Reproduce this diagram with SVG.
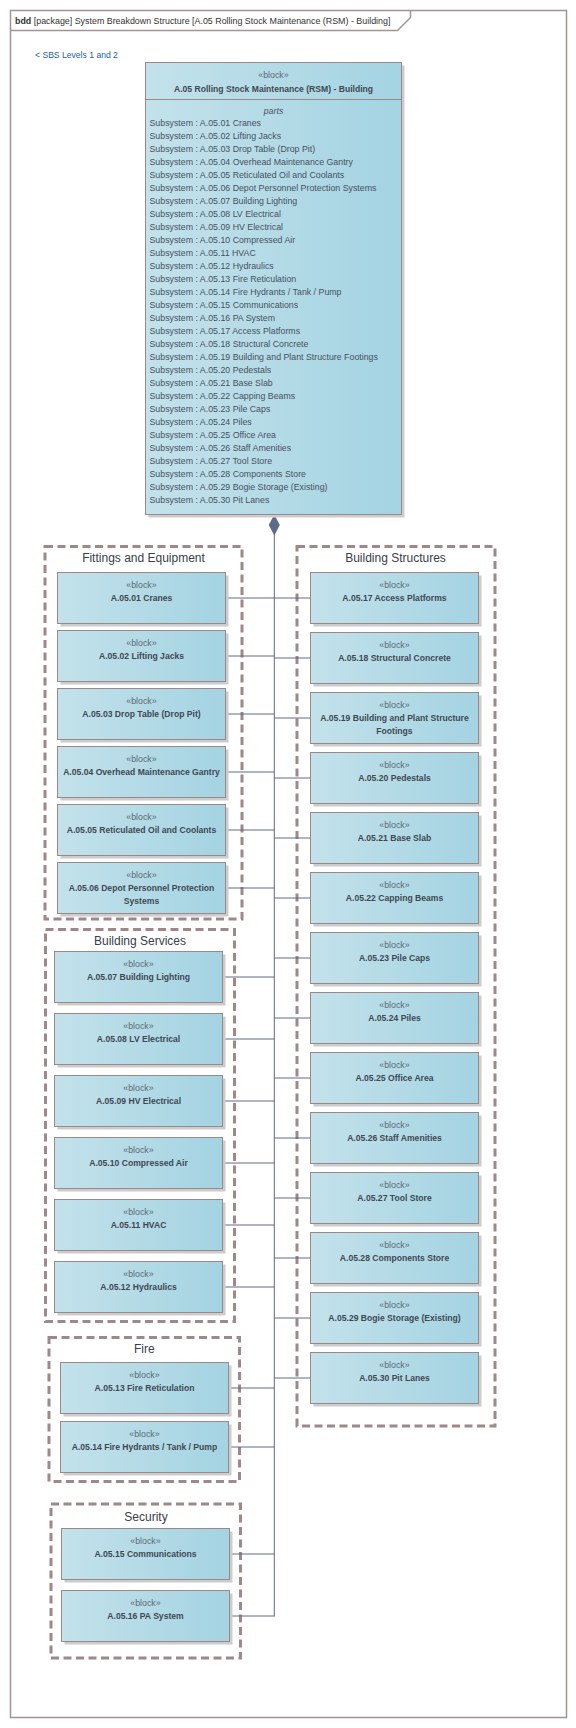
<svg xmlns="http://www.w3.org/2000/svg" width="576" height="1728" viewBox="0 0 576 1728">
<defs>
<linearGradient id="bg" x1="0" y1="0" x2="1" y2="0">
<stop offset="0" stop-color="#c3e2eb"/>
<stop offset="1" stop-color="#a4d3e2"/>
</linearGradient>
<marker id="diamond" viewBox="0 0 21 11" refX="0" refY="5.5" markerWidth="21" markerHeight="11" markerUnits="userSpaceOnUse" orient="auto">
<path d="M0,5.5 L10.5,0 L21,5.5 L10.5,11 Z" fill="#5d6a88"/>
</marker>
</defs>
<style>
text{font-family:"Liberation Sans",Arial,sans-serif;}
.frame{fill:none;stroke:#a39393;stroke-width:1.5;}
.ftitle{font-size:8.9px;fill:#333;}
.link{font-size:8.6px;fill:#1f5f9e;}
.shadow{fill:#cccccc;}
.box{fill:url(#bg);stroke:#9e8787;stroke-width:1;}
.st{font-size:8.8px;fill:#5d6873;text-anchor:middle;}
.nm{font-size:8.6px;fill:#3f4852;font-weight:bold;text-anchor:middle;}
.pt{font-size:8.8px;fill:#47515c;}
.pth{font-size:8.8px;fill:#47515c;font-style:italic;text-anchor:middle;}
.grp{fill:none;stroke:#9e8888;stroke-width:3;stroke-dasharray:8 4.5;}
.gt{font-size:12px;fill:#36404b;text-anchor:middle;}
.con{fill:none;stroke:#5d6a88;stroke-width:1;}
</style>
<rect width="576" height="1728" fill="#ffffff"/>
<g id="frame">
<rect class="frame" x="10.5" y="10.5" width="556" height="1707"/>
<path class="frame" d="M10.5,30.5 H397.5 L410.5,17.5 V10.5"/>
<text class="ftitle" x="15" y="23.5"><tspan font-weight="bold">bdd</tspan> [package] System Breakdown Structure [A.05 Rolling Stock Maintenance (RSM) - Building]</text>
</g>
<g id="link"><text class="link" x="35" y="58">&lt; SBS Levels 1 and 2</text></g>

<g id="grp-fittings"><rect class="grp" x="45" y="546.5" width="197" height="372.5"/><text class="gt" x="143.5" y="562">Fittings and Equipment</text></g>
<g id="grp-services"><rect class="grp" x="45.5" y="929.5" width="189" height="392"/><text class="gt" x="140" y="945">Building Services</text></g>
<g id="grp-fire"><rect class="grp" x="49" y="1337.5" width="190.5" height="144"/><text class="gt" x="144.3" y="1353">Fire</text></g>
<g id="grp-security"><rect class="grp" x="51" y="1504" width="189.5" height="154"/><text class="gt" x="146" y="1521">Security</text></g>
<g id="grp-structures"><rect class="grp" x="297" y="546.5" width="198" height="879.5"/><text class="gt" x="395.5" y="562">Building Structures</text></g>

<g id="connectors">
<path class="con" d="M274.3,514.5 V1616.5" marker-start="url(#diamond)"/>
<path class="con" d="M225.5,598 H310.5"/>
<path class="con" d="M225.5,656 H274.3 M225.5,714 H274.3 M225.5,772 H274.3 M225.5,830 H274.3 M225.5,888 H274.3"/>
<path class="con" d="M222.5,977 H274.3 M222.5,1039 H274.3 M222.5,1101 H274.3 M222.5,1163 H274.3 M222.5,1225 H274.3 M222.5,1287 H274.3"/>
<path class="con" d="M228.5,1388 H274.3 M228.5,1447 H274.3"/>
<path class="con" d="M229.5,1554 H274.3 M229.5,1616 H274.3"/>
<path class="con" d="M274.3,658 H310.5 M274.3,718 H310.5 M274.3,778 H310.5 M274.3,838 H310.5 M274.3,898 H310.5 M274.3,958 H310.5 M274.3,1018 H310.5 M274.3,1078 H310.5 M274.3,1138 H310.5 M274.3,1198 H310.5 M274.3,1258 H310.5 M274.3,1318 H310.5 M274.3,1378 H310.5"/>
</g>

<g id="A05" transform="translate(145.5,62.5)">
<rect class="shadow" x="3" y="3" width="256" height="452"/>
<rect class="box" x="0" y="0" width="256" height="452"/>
<line x1="0" y1="37" x2="256" y2="37" stroke="#9e8787" stroke-width="1"/>
<text class="st" x="128" y="15.8">«block»</text>
<text class="nm" x="128" y="29">A.05 Rolling Stock Maintenance (RSM) - Building</text>
<text class="pth" x="128" y="51.2">parts</text>
<text class="pt" x="4" y="63.5">Subsystem : A.05.01 Cranes</text>
<text class="pt" x="4" y="76.5">Subsystem : A.05.02 Lifting Jacks</text>
<text class="pt" x="4" y="89.5">Subsystem : A.05.03 Drop Table (Drop Pit)</text>
<text class="pt" x="4" y="102.5">Subsystem : A.05.04 Overhead Maintenance Gantry</text>
<text class="pt" x="4" y="115.5">Subsystem : A.05.05 Reticulated Oil and Coolants</text>
<text class="pt" x="4" y="128.5">Subsystem : A.05.06 Depot Personnel Protection Systems</text>
<text class="pt" x="4" y="141.5">Subsystem : A.05.07 Building Lighting</text>
<text class="pt" x="4" y="154.5">Subsystem : A.05.08 LV Electrical</text>
<text class="pt" x="4" y="167.5">Subsystem : A.05.09 HV Electrical</text>
<text class="pt" x="4" y="180.5">Subsystem : A.05.10 Compressed Air</text>
<text class="pt" x="4" y="193.5">Subsystem : A.05.11 HVAC</text>
<text class="pt" x="4" y="206.5">Subsystem : A.05.12 Hydraulics</text>
<text class="pt" x="4" y="219.5">Subsystem : A.05.13 Fire Reticulation</text>
<text class="pt" x="4" y="232.5">Subsystem : A.05.14 Fire Hydrants / Tank / Pump</text>
<text class="pt" x="4" y="245.5">Subsystem : A.05.15 Communications</text>
<text class="pt" x="4" y="258.5">Subsystem : A.05.16 PA System</text>
<text class="pt" x="4" y="271.5">Subsystem : A.05.17 Access Platforms</text>
<text class="pt" x="4" y="284.5">Subsystem : A.05.18 Structural Concrete</text>
<text class="pt" x="4" y="297.5">Subsystem : A.05.19 Building and Plant Structure Footings</text>
<text class="pt" x="4" y="310.5">Subsystem : A.05.20 Pedestals</text>
<text class="pt" x="4" y="323.5">Subsystem : A.05.21 Base Slab</text>
<text class="pt" x="4" y="336.5">Subsystem : A.05.22 Capping Beams</text>
<text class="pt" x="4" y="349.5">Subsystem : A.05.23 Pile Caps</text>
<text class="pt" x="4" y="362.5">Subsystem : A.05.24 Piles</text>
<text class="pt" x="4" y="375.5">Subsystem : A.05.25 Office Area</text>
<text class="pt" x="4" y="388.5">Subsystem : A.05.26 Staff Amenities</text>
<text class="pt" x="4" y="401.5">Subsystem : A.05.27 Tool Store</text>
<text class="pt" x="4" y="414.5">Subsystem : A.05.28 Components Store</text>
<text class="pt" x="4" y="427.5">Subsystem : A.05.29 Bogie Storage (Existing)</text>
<text class="pt" x="4" y="440.5">Subsystem : A.05.30 Pit Lanes</text>
</g>

<g id="A0501" transform="translate(57.5,572.5)"><rect class="shadow" x="3" y="3" width="168" height="51"/><rect class="box" width="168" height="51"/><text class="st" x="84" y="15.8">«block»</text><text class="nm" x="84" y="28.5">A.05.01 Cranes</text></g>
<g id="A0502" transform="translate(57.5,630.5)"><rect class="shadow" x="3" y="3" width="168" height="51"/><rect class="box" width="168" height="51"/><text class="st" x="84" y="15.8">«block»</text><text class="nm" x="84" y="28.5">A.05.02 Lifting Jacks</text></g>
<g id="A0503" transform="translate(57.5,688.5)"><rect class="shadow" x="3" y="3" width="168" height="51"/><rect class="box" width="168" height="51"/><text class="st" x="84" y="15.8">«block»</text><text class="nm" x="84" y="28.5">A.05.03 Drop Table (Drop Pit)</text></g>
<g id="A0504" transform="translate(57.5,746.5)"><rect class="shadow" x="3" y="3" width="168" height="51"/><rect class="box" width="168" height="51"/><text class="st" x="84" y="15.8">«block»</text><text class="nm" x="84" y="28.5">A.05.04 Overhead Maintenance Gantry</text></g>
<g id="A0505" transform="translate(57.5,804.5)"><rect class="shadow" x="3" y="3" width="168" height="51"/><rect class="box" width="168" height="51"/><text class="st" x="84" y="15.8">«block»</text><text class="nm" x="84" y="28.5">A.05.05 Reticulated Oil and Coolants</text></g>
<g id="A0506" transform="translate(57.5,862.5)"><rect class="shadow" x="3" y="3" width="168" height="51"/><rect class="box" width="168" height="51"/><text class="st" x="84" y="15.8">«block»</text><text class="nm" x="84" y="28.5">A.05.06 Depot Personnel Protection</text><text class="nm" x="84" y="41.8">Systems</text></g>

<g id="A0507" transform="translate(54.5,951.5)"><rect class="shadow" x="3" y="3" width="168" height="51"/><rect class="box" width="168" height="51"/><text class="st" x="84" y="15.8">«block»</text><text class="nm" x="84" y="28.5">A.05.07 Building Lighting</text></g>
<g id="A0508" transform="translate(54.5,1013.5)"><rect class="shadow" x="3" y="3" width="168" height="51"/><rect class="box" width="168" height="51"/><text class="st" x="84" y="15.8">«block»</text><text class="nm" x="84" y="28.5">A.05.08 LV Electrical</text></g>
<g id="A0509" transform="translate(54.5,1075.5)"><rect class="shadow" x="3" y="3" width="168" height="51"/><rect class="box" width="168" height="51"/><text class="st" x="84" y="15.8">«block»</text><text class="nm" x="84" y="28.5">A.05.09 HV Electrical</text></g>
<g id="A0510" transform="translate(54.5,1137.5)"><rect class="shadow" x="3" y="3" width="168" height="51"/><rect class="box" width="168" height="51"/><text class="st" x="84" y="15.8">«block»</text><text class="nm" x="84" y="28.5">A.05.10 Compressed Air</text></g>
<g id="A0511" transform="translate(54.5,1199.5)"><rect class="shadow" x="3" y="3" width="168" height="51"/><rect class="box" width="168" height="51"/><text class="st" x="84" y="15.8">«block»</text><text class="nm" x="84" y="28.5">A.05.11 HVAC</text></g>
<g id="A0512" transform="translate(54.5,1261.5)"><rect class="shadow" x="3" y="3" width="168" height="51"/><rect class="box" width="168" height="51"/><text class="st" x="84" y="15.8">«block»</text><text class="nm" x="84" y="28.5">A.05.12 Hydraulics</text></g>

<g id="A0513" transform="translate(60.5,1362.5)"><rect class="shadow" x="3" y="3" width="168" height="51"/><rect class="box" width="168" height="51"/><text class="st" x="84" y="15.8">«block»</text><text class="nm" x="84" y="28.5">A.05.13 Fire Reticulation</text></g>
<g id="A0514" transform="translate(60.5,1421.5)"><rect class="shadow" x="3" y="3" width="168" height="51"/><rect class="box" width="168" height="51"/><text class="st" x="84" y="15.8">«block»</text><text class="nm" x="84" y="28.5">A.05.14 Fire Hydrants / Tank / Pump</text></g>

<g id="A0515" transform="translate(61.5,1528.5)"><rect class="shadow" x="3" y="3" width="168" height="51"/><rect class="box" width="168" height="51"/><text class="st" x="84" y="15.8">«block»</text><text class="nm" x="84" y="28.5">A.05.15 Communications</text></g>
<g id="A0516" transform="translate(61.5,1590.5)"><rect class="shadow" x="3" y="3" width="168" height="51"/><rect class="box" width="168" height="51"/><text class="st" x="84" y="15.8">«block»</text><text class="nm" x="84" y="28.5">A.05.16 PA System</text></g>

<g id="A0517" transform="translate(310.5,572.5)"><rect class="shadow" x="3" y="3" width="168" height="51"/><rect class="box" width="168" height="51"/><text class="st" x="84" y="15.8">«block»</text><text class="nm" x="84" y="28.5">A.05.17 Access Platforms</text></g>
<g id="A0518" transform="translate(310.5,632.5)"><rect class="shadow" x="3" y="3" width="168" height="51"/><rect class="box" width="168" height="51"/><text class="st" x="84" y="15.8">«block»</text><text class="nm" x="84" y="28.5">A.05.18 Structural Concrete</text></g>
<g id="A0519" transform="translate(310.5,692.5)"><rect class="shadow" x="3" y="3" width="168" height="51"/><rect class="box" width="168" height="51"/><text class="st" x="84" y="15.8">«block»</text><text class="nm" x="84" y="28.5">A.05.19 Building and Plant Structure</text><text class="nm" x="84" y="41.8">Footings</text></g>
<g id="A0520" transform="translate(310.5,752.5)"><rect class="shadow" x="3" y="3" width="168" height="51"/><rect class="box" width="168" height="51"/><text class="st" x="84" y="15.8">«block»</text><text class="nm" x="84" y="28.5">A.05.20 Pedestals</text></g>
<g id="A0521" transform="translate(310.5,812.5)"><rect class="shadow" x="3" y="3" width="168" height="51"/><rect class="box" width="168" height="51"/><text class="st" x="84" y="15.8">«block»</text><text class="nm" x="84" y="28.5">A.05.21 Base Slab</text></g>
<g id="A0522" transform="translate(310.5,872.5)"><rect class="shadow" x="3" y="3" width="168" height="51"/><rect class="box" width="168" height="51"/><text class="st" x="84" y="15.8">«block»</text><text class="nm" x="84" y="28.5">A.05.22 Capping Beams</text></g>
<g id="A0523" transform="translate(310.5,932.5)"><rect class="shadow" x="3" y="3" width="168" height="51"/><rect class="box" width="168" height="51"/><text class="st" x="84" y="15.8">«block»</text><text class="nm" x="84" y="28.5">A.05.23 Pile Caps</text></g>
<g id="A0524" transform="translate(310.5,992.5)"><rect class="shadow" x="3" y="3" width="168" height="51"/><rect class="box" width="168" height="51"/><text class="st" x="84" y="15.8">«block»</text><text class="nm" x="84" y="28.5">A.05.24 Piles</text></g>
<g id="A0525" transform="translate(310.5,1052.5)"><rect class="shadow" x="3" y="3" width="168" height="51"/><rect class="box" width="168" height="51"/><text class="st" x="84" y="15.8">«block»</text><text class="nm" x="84" y="28.5">A.05.25 Office Area</text></g>
<g id="A0526" transform="translate(310.5,1112.5)"><rect class="shadow" x="3" y="3" width="168" height="51"/><rect class="box" width="168" height="51"/><text class="st" x="84" y="15.8">«block»</text><text class="nm" x="84" y="28.5">A.05.26 Staff Amenities</text></g>
<g id="A0527" transform="translate(310.5,1172.5)"><rect class="shadow" x="3" y="3" width="168" height="51"/><rect class="box" width="168" height="51"/><text class="st" x="84" y="15.8">«block»</text><text class="nm" x="84" y="28.5">A.05.27 Tool Store</text></g>
<g id="A0528" transform="translate(310.5,1232.5)"><rect class="shadow" x="3" y="3" width="168" height="51"/><rect class="box" width="168" height="51"/><text class="st" x="84" y="15.8">«block»</text><text class="nm" x="84" y="28.5">A.05.28 Components Store</text></g>
<g id="A0529" transform="translate(310.5,1292.5)"><rect class="shadow" x="3" y="3" width="168" height="51"/><rect class="box" width="168" height="51"/><text class="st" x="84" y="15.8">«block»</text><text class="nm" x="84" y="28.5">A.05.29 Bogie Storage (Existing)</text></g>
<g id="A0530" transform="translate(310.5,1352.5)"><rect class="shadow" x="3" y="3" width="168" height="51"/><rect class="box" width="168" height="51"/><text class="st" x="84" y="15.8">«block»</text><text class="nm" x="84" y="28.5">A.05.30 Pit Lanes</text></g>
</svg>
